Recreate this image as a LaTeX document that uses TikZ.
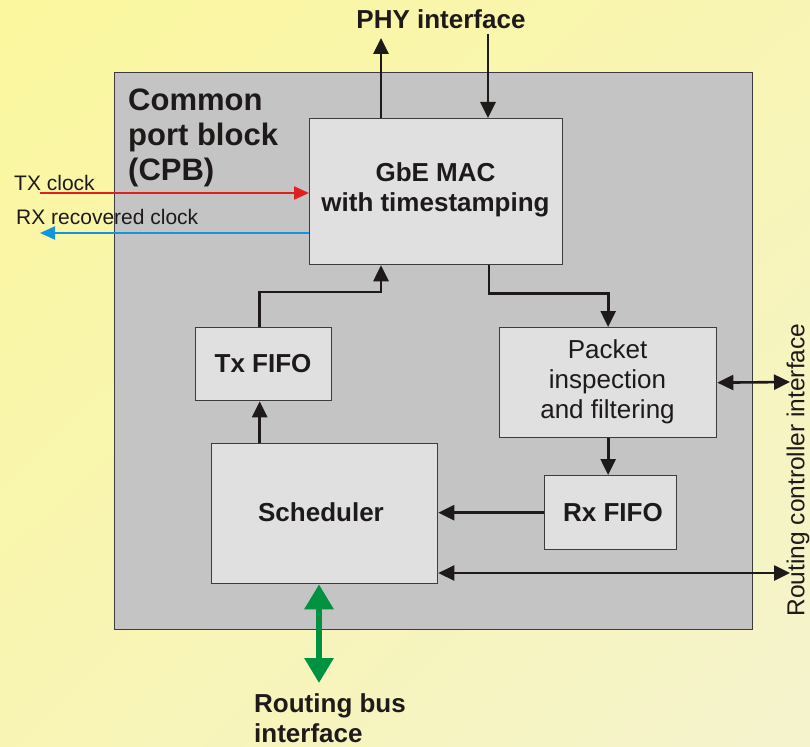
\documentclass[tikz,border=0pt]{standalone}
\usepackage{fontspec}
\setmainfont{Liberation Sans}
\usetikzlibrary{arrows.meta,shadings}
\definecolor{bgA}{RGB}{251,247,158}
\definecolor{bgM}{RGB}{248,245,180}
\definecolor{bgB}{RGB}{244,243,205}
\definecolor{cpbfill}{RGB}{196,196,196}
\definecolor{boxfill}{RGB}{224,224,224}
\definecolor{edge}{RGB}{60,60,60}
\definecolor{ink}{RGB}{30,26,26}
\definecolor{clkred}{RGB}{224,32,32}
\definecolor{clkblue}{RGB}{20,150,222}
\definecolor{busgreen}{RGB}{0,146,64}
\tikzset{
  blk/.style={draw=edge, line width=1.3pt, fill=boxfill, inner sep=0pt, anchor=north west},
  conn/.style={draw=ink, line width=2.8pt, -{Triangle[length=16pt,width=15pt]}},
  dconn/.style={draw=ink, line width=2.6pt, {Triangle[length=16pt,width=15pt]}-{Triangle[length=16pt,width=15pt]}},
  btxt/.style={font=\bfseries\fontsize{26}{30}\selectfont, text=ink, align=center},
  rtxt/.style={font=\fontsize{26}{30}\selectfont, text=ink, align=center},
}
\begin{document}
\begin{tikzpicture}[x=1pt,y=-1pt]
\useasboundingbox (0,0) rectangle (810,746);
\shade[upper left=bgA, upper right=bgM, lower left=bgM, lower right=bgB] (0,0) rectangle (810,746);
% CPB
\node[blk, fill=cpbfill, minimum width=638pt, minimum height=557pt] (cpb) at (114,72) {};
\node[anchor=north west, font=\bfseries\fontsize{31}{35}\selectfont, text=ink, align=left, inner sep=0pt] (cpbl) at (128,89) {Common\\port block\\(CPB)};
% blocks
\node[blk, minimum width=253pt, minimum height=146pt] (mac) at (309,118) {};
\node[btxt] (macl) at (435.5,190) {GbE MAC\\with timestamping};
\node[blk, minimum width=136pt, minimum height=73pt] (tx) at (195,327) {};
\node[btxt] (txl) at (263,364) {Tx FIFO};
\node[blk, minimum width=217pt, minimum height=110pt] (pkt) at (499,327) {};
\node[rtxt] (pktl) at (607.5,382) {Packet\\inspection\\and filtering};
\node[blk, minimum width=132pt, minimum height=74pt] (rx) at (544,475) {};
\node[btxt] (rxl) at (613,513) {Rx FIFO};
\node[blk, minimum width=226pt, minimum height=140pt] (sch) at (211,443) {};
\node[btxt] (schl) at (321,512) {Scheduler};
% external labels
\node[btxt] (phy) at (441,19) {PHY interface};
\node[btxt, align=left, anchor=north west, inner sep=0pt] (rbus) at (254,693) {Routing bus\\interface};
\node[font=\fontsize{21}{24}\selectfont, text=ink, anchor=west, inner sep=0pt] (txc) at (14,183) {TX clock};
\node[font=\fontsize{21}{24}\selectfont, text=ink, anchor=west, inner sep=0pt] (rxc) at (16,217) {RX recovered clock};
\node[font=\fontsize{24.5}{28}\selectfont, text=ink, rotate=90, inner sep=0pt] (rci) at (798,470) {Routing controller interface};
% coordinates
\coordinate (phyup) at (381,38);
\coordinate (phydn) at (488,34);
\coordinate (txcs) at (40,193);
\coordinate (rxce) at (40,233);
\coordinate (pktr) at (790,382);
\coordinate (schr) at (790,573);
\coordinate (busend) at (319,683);
% PHY
\draw[conn] (mac.north west -| phyup) -- (phyup);
\draw[conn] (phydn) -- (mac.north west -| phydn);
% clocks
\draw[line width=2.2pt, clkred, -{Triangle[length=15pt,width=13pt]}] (txcs) -- (txcs -| mac.west);
\draw[line width=2.2pt, clkblue, -{Triangle[length=15pt,width=13pt]}] (rxce -| mac.west) -- (rxce);
% internal
\draw[conn] (tx.north) ++(-4,0) coordinate (txt) -- (txt |- 0,292) -| (mac.south west -| phyup);
\draw[conn] (sch.north west -| txt) -- (tx.south -| txt);
\draw[conn] (mac.south west -| phydn) ++(1,0) -- ++(0,28) -| (pkt.north);
\draw[conn] (pkt.south) -- (rx.north -| pkt.south);
\draw[conn] (rx.west) -- (rx.west -| sch.east);
\draw[dconn] (pkt.east) -- (pktr);
\draw[dconn] (sch.east |- schr) -- (schr);
% bus
\draw[line width=6pt, busgreen, {Triangle[length=25pt,width=28pt]}-{Triangle[length=25pt,width=28pt]}] (sch.south west -| busend) -- (busend);
\end{tikzpicture}
\end{document}
